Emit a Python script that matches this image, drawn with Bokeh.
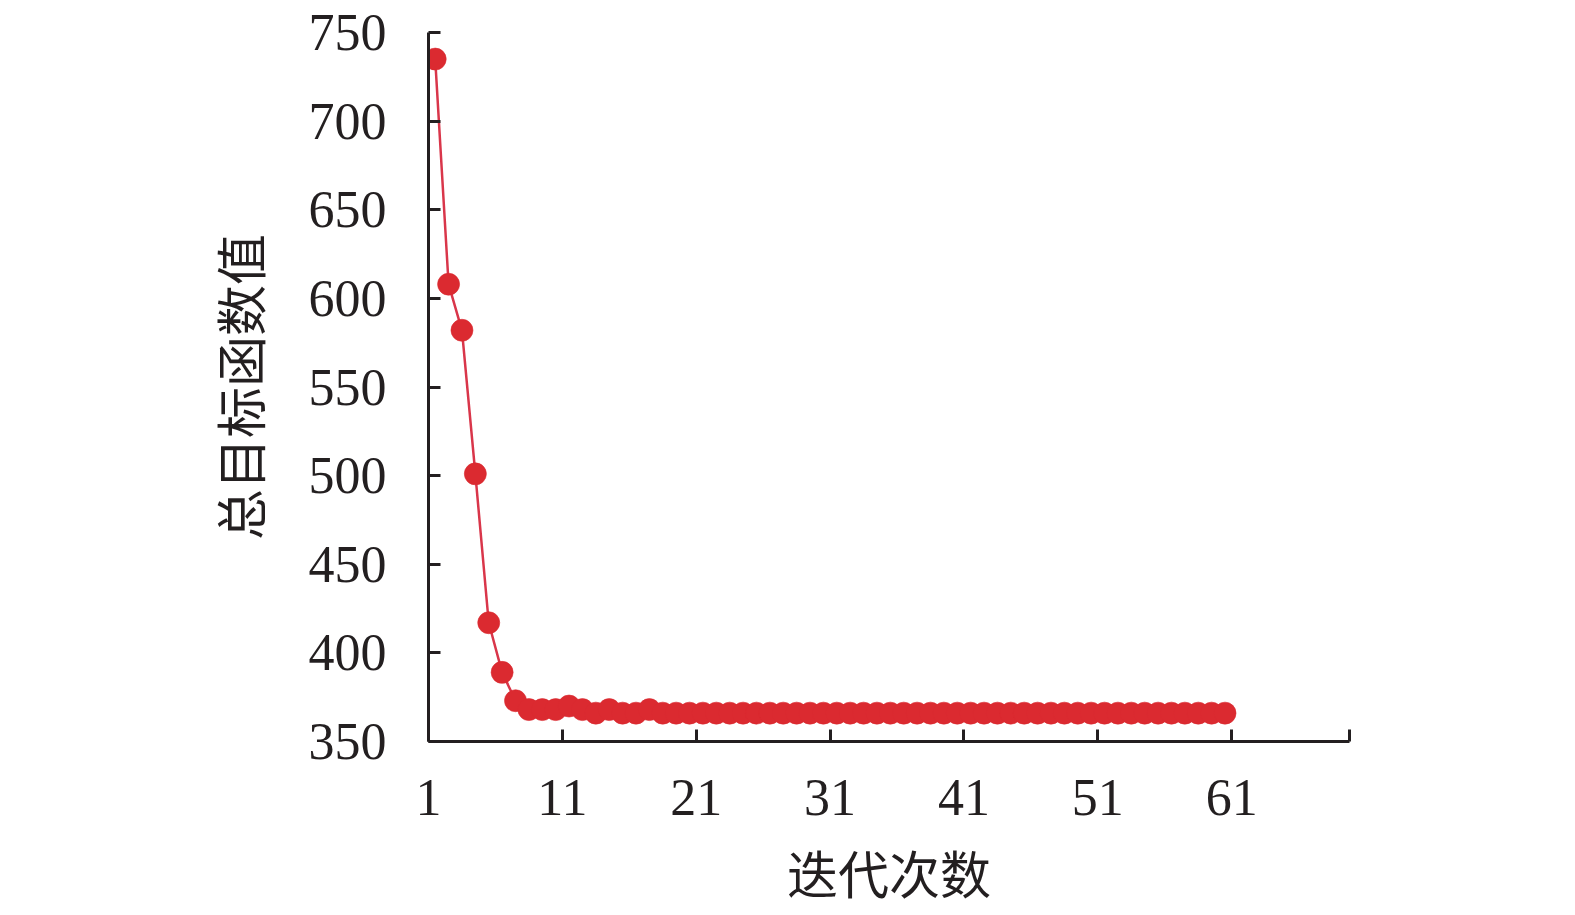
from bokeh.plotting import figure
from bokeh.models import Range1d, FixedTicker
from bokeh.embed import file_html
from bokeh.resources import INLINE

iterations = list(range(1, 61))
objective = [735, 608, 582, 501, 417, 389, 373, 368, 368, 368,
             370, 368, 366, 368, 366, 366, 368] + [366] * 43
x_tick_pos = [0.5, 10.5, 20.5, 30.5, 40.5, 50.5, 60.5, 69.3]
x_tick_labels = ["1", "11", "21", "31", "41", "51", "61", ""]
y_ticks = [350, 400, 450, 500, 550, 600, 650, 700, 750]

W, H = 1559, 911
p = figure(width=W, height=H, output_backend="svg", toolbar_location=None,
           x_range=Range1d(0.5, 69.3), y_range=Range1d(350, 750),
           min_border_left=428, min_border_top=32, min_border_right=W - 1349,
           min_border_bottom=H - 742)
p.outline_line_color = None
p.xgrid.visible = False
p.ygrid.visible = False

red = "#db2a30"
p.line(iterations, objective, line_color="#d9364a", line_width=2.5)
p.scatter(iterations, objective, size=22, fill_color=red, line_color=red,
          line_alpha=0.6, line_width=1)

ink = "#231f20"
for ax in (p.xaxis[0], p.yaxis[0]):
    ax.axis_line_color = ink
    ax.axis_line_width = 3
    ax.major_tick_line_color = ink
    ax.major_tick_line_width = 3
    ax.major_tick_in = 12
    ax.major_tick_out = 0
    ax.minor_tick_line_color = None
    ax.major_label_text_font = "Liberation Serif"
    ax.major_label_text_font_size = "52px"
    ax.major_label_text_color = ink
    ax.axis_label_text_font = "Noto Sans CJK SC"
    ax.axis_label_text_font_size = "51px"
    ax.axis_label_text_font_style = "normal"
    ax.axis_label_text_color = ink

p.xaxis.ticker = FixedTicker(ticks=x_tick_pos)
p.xaxis.major_label_overrides = {t: l for t, l in zip(x_tick_pos, x_tick_labels)}
p.xaxis.major_label_standoff = 38
p.xaxis.axis_label = "迭代次数"
p.xaxis.axis_label_standoff = 17

p.yaxis.ticker = FixedTicker(ticks=y_ticks)
p.yaxis.major_label_standoff = 42
p.yaxis.axis_label = "总目标函数值"
p.yaxis.axis_label_standoff = 30

open("out.html", "w").write(file_html(p, INLINE))
